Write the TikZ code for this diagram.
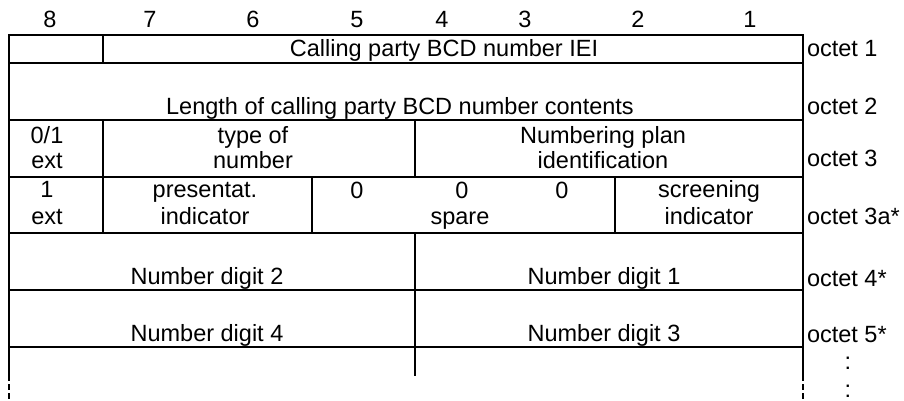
\documentclass[tikz,border=0pt]{standalone}
\usepackage{fontspec}
\setmainfont{Liberation Sans}

\begin{document}
\begin{tikzpicture}[x=0.5pt, y=-0.5pt, line width=1pt, line cap=rect,
	every node/.style={font=\fontsize{11.75}{14}\selectfont, inner sep=0pt, anchor=base},
	octet/.style={anchor=base west},
	cont/.style={line cap=butt, dash pattern=on 3pt off 1.5pt}]
	\useasboundingbox (0,0) rectangle (904,401);
	% bit numbers
	\foreach \b/\x in {8/50,7/150,6/253,5/357,4/442,3/525,2/638,1/750}
		\node (bit\b) at (\x,28) {\b};
	% rows and columns
	\foreach \y in {35,63,120,177,233,290,347}
		\draw (9,\y) -- (803,\y);
	\draw (9,35) -- (9,375);
	\draw (803,35) -- (803,375);
	\draw[cont] (9,375) -- (9,399);
	\draw[cont] (803,375) -- (803,399);
	\draw (103,35) -- (103,63);
	\draw (103,120) -- (103,233);
	\draw (312,177) -- (312,233);
	\draw (415,120) -- (415,177);
	\draw (415,233) -- (415,375);
	\draw (615,177) -- (615,233);
	% octet 1, 2
	\node (iei) at (444,57) {Calling party BCD number IEI};
	\node (len) at (400,115) {Length of calling party BCD number contents};
	% octet 3
	\node (ext3) at (47,143) {0/1};
	\node at (47,168) {ext};
	\node (ton) at (253,143) {type of};
	\node at (253,168) {number};
	\node (npi) at (603,143) {Numbering plan};
	\node at (603,168) {identification};
	% octet 3a
	\node (ext3a) at (47,197) {1};
	\node at (47,224) {ext};
	\node (pres) at (205,197) {presentat.};
	\node at (205,224) {indicator};
	\foreach \x [count=\i] in {357,462,562}
		\node (spare\i) at (\x,198) {0};
	\node (spare) at (460,224) {spare};
	\node (scr) at (709,197) {screening};
	\node at (709,224) {indicator};
	% digits
	\node (dig2) at (207,284) {Number digit 2};
	\node (dig1) at (604,284) {Number digit 1};
	\node (dig4) at (207,341) {Number digit 4};
	\node (dig3) at (604,341) {Number digit 3};
	% octet labels
	\node[octet] (o1) at (806,57) {octet 1};
	\node[octet] (o2) at (806,115) {octet 2};
	\node[octet] (o3) at (806,166) {octet 3};
	\node[octet] (o3a) at (806,224) {octet 3a*};
	\node[octet] (o4) at (806,286) {octet 4*};
	\node[octet] (o5) at (806,342) {octet 5*};
	\node (more1) at (848,369) {:};
	\node (more2) at (848,397) {:};
\end{tikzpicture}
\end{document}
